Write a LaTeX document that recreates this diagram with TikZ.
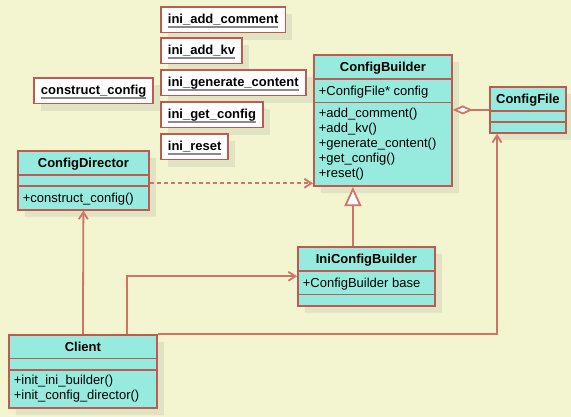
\documentclass[tikz,border=0pt]{standalone}
\usepackage{fontspec}
\setmainfont{Liberation Sans}
\usepackage{xcolor}
\usepackage{tikz}
\usetikzlibrary{arrows.meta,positioning,shapes.multipart,shadows}

\definecolor{canvasbg}{HTML}{F2F5D0}
\definecolor{shadowbg}{HTML}{E1E4C2}
\definecolor{classfill}{HTML}{96EBDE}
\definecolor{boxred}{HTML}{BD5A52}
\definecolor{linkred}{HTML}{CF7466}
\definecolor{ulgray}{HTML}{8A8A8A}

\newcommand{\rowstrut}{\rule[-2.5pt]{0pt}{15pt}}
\newcommand{\objname}[1]{\setbox0\hbox{#1}\rlap{\color{ulgray}\rule[-4pt]{\wd0}{1.8pt}}\box0\rowstrut}
\newcommand{\opsList}[1]{\raisebox{-2pt}{\begin{tabular}{@{}l@{}}#1\end{tabular}}}
\newcommand{\emptyrow}{\rule{0pt}{2.5pt}}

\begin{document}
\begin{tikzpicture}[x=1pt, y=-1pt,
  umlclass/.style={rectangle split, rectangle split parts=3,
    rectangle split part align={center,left,left},
    draw=boxred, line width=1.8pt, fill=classfill, anchor=north west,
    inner xsep=5pt, inner ysep=3.4pt, font=\fontsize{13}{15}\selectfont,
    drop shadow={shadow xshift=7pt, shadow yshift=-7pt, fill=shadowbg, opacity=1}},
  objbox/.style={draw=boxred, line width=1.8pt, fill=white, anchor=north west,
    inner xsep=7pt, inner ysep=4.6pt, font=\fontsize{13}{15}\selectfont\bfseries,
    drop shadow={shadow xshift=7pt, shadow yshift=-7pt, fill=shadowbg, opacity=1}},
  link/.style={draw=linkred, line width=1.8pt},
  navig/.style={link, -{Straight Barb[length=7pt, width=9pt]}},
  depend/.style={navig, dash pattern=on 4pt off 3pt},
  inherit/.style={link, -{Triangle[open, fill=white, length=19pt, width=17pt]}},
  aggreg/.style={link, {Diamond[open, fill=white, length=20pt, width=9pt]}-}
]
\fill[canvasbg] (0,0) rectangle (571,417);
\useasboundingbox (0,0) rectangle (571,417);

% objects
\node[objbox] (addComment) at (160,6) {\objname{ini\_add\_comment}};
\node[objbox] (addKv) at (160,37) {\objname{ini\_add\_kv}};
\node[objbox] (genContent) at (160,69) {\objname{ini\_generate\_content}};
\node[objbox] (getConfig) at (160,101) {\objname{ini\_get\_config}};
\node[objbox] (resetObj) at (160,133) {\objname{ini\_reset}};
\node[objbox] (constructObj) at (33,77) {\objname{construct\_config}};

% classes
\node[umlclass, minimum width=138pt] (ConfigBuilder) at (313,54)
  {\textbf{ConfigBuilder}\rowstrut
   \nodepart{two}+ConfigFile* config\rowstrut
   \nodepart{three}\opsList{+add\_comment()\\+add\_kv()\\+generate\_content()\\+get\_config()\\+reset()}};
\node[umlclass, minimum width=76pt] (ConfigFile) at (489,86)
  {\textbf{ConfigFile}\rowstrut \nodepart{two}\emptyrow \nodepart{three}\emptyrow};
\node[umlclass, minimum width=131pt] (ConfigDirector) at (17,150)
  {\textbf{ConfigDirector}\rowstrut
   \nodepart{two}\emptyrow
   \nodepart{three}+construct\_config()\rowstrut};
\node[umlclass, minimum width=137pt] (IniConfigBuilder) at (297,246)
  {\textbf{IniConfigBuilder}\rowstrut
   \nodepart{two}+ConfigBuilder base\rowstrut
   \nodepart{three}\emptyrow};
\node[umlclass, minimum width=148pt] (Client) at (8,334)
  {\textbf{Client}\rowstrut
   \nodepart{two}\emptyrow
   \nodepart{three}\opsList{+init\_ini\_builder()\\+init\_config\_director()}};

% relations
\draw[depend] ([yshift=-3pt]ConfigDirector.east) -- ([yshift=-3pt]ConfigDirector.east -| ConfigBuilder.west);
\draw[inherit] ([xshift=-13.5pt]IniConfigBuilder.north) -- ([xshift=-13.5pt]IniConfigBuilder.north |- ConfigBuilder.south);
\draw[aggreg] (ConfigBuilder.east |- ConfigFile.west) -- (ConfigFile.west);
\draw[navig] (Client.north) -- (ConfigDirector.south);
\draw[navig] ([xshift=44pt]Client.north) |- (IniConfigBuilder.west);
\draw[navig] (Client.north east) -| ([xshift=8pt]ConfigFile.south west);
\end{tikzpicture}
\end{document}
